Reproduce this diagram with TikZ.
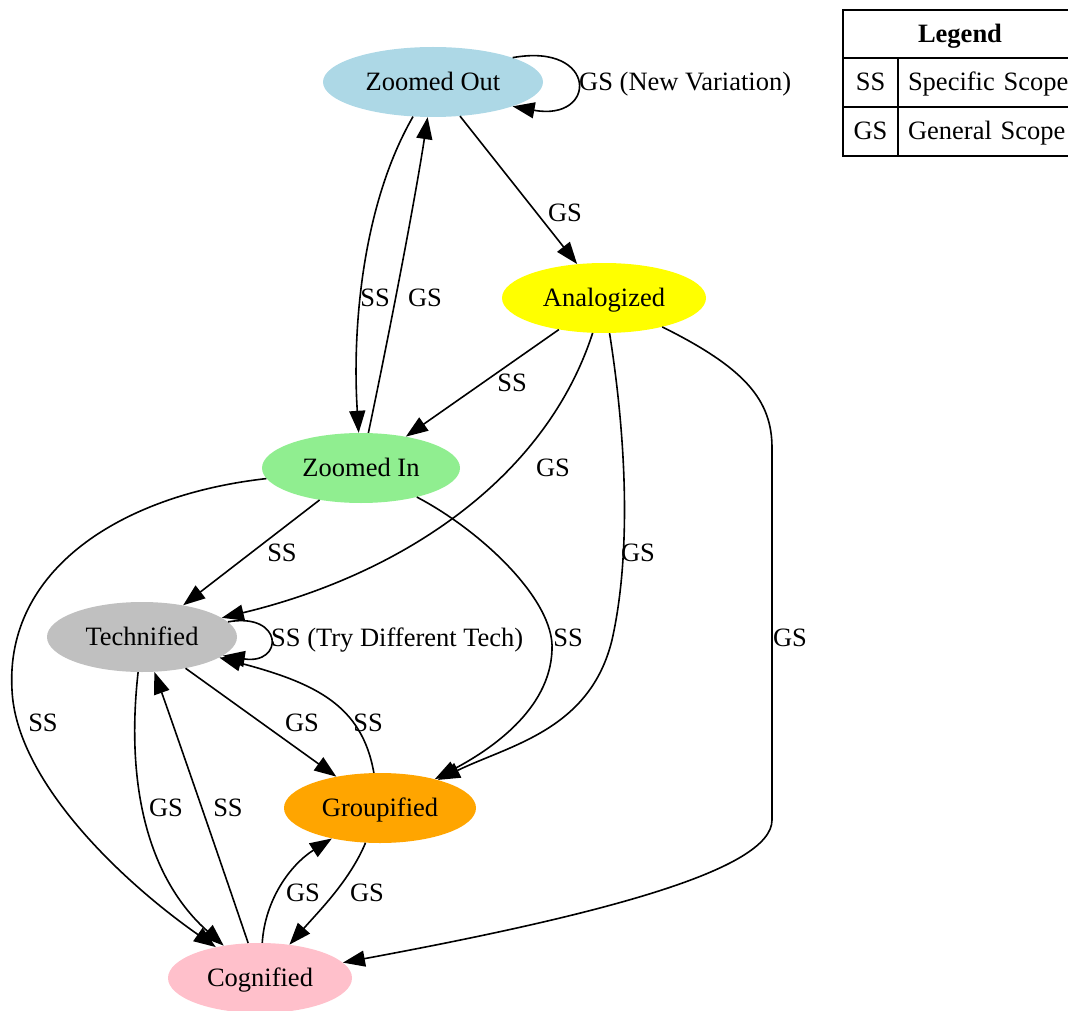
\documentclass[tikz,border=0pt]{standalone}
\usepackage{fontspec}
\setmainfont{Liberation Serif}
\usetikzlibrary{arrows.meta,shapes.geometric}
\definecolor{clightblue}{RGB}{173,216,230}
\definecolor{cyellow}{RGB}{255,255,0}
\definecolor{clightgreen}{RGB}{144,238,144}
\definecolor{cgray}{RGB}{192,192,192}
\definecolor{corange}{RGB}{255,165,0}
\definecolor{cpink}{RGB}{255,192,203}
\begin{document}
\begin{tikzpicture}[x=1pt,y=-1pt,
  every node/.style={font=\fontsize{26.5}{30}\selectfont},
  st/.style={ellipse, inner sep=0pt, minimum height=70pt, text height=17pt, text depth=0pt},
  e/.style={draw=black, line width=1.6pt, -{Triangle[length=22pt,width=16pt]}},
  lbl/.style={inner sep=0pt, text height=17pt, text depth=0pt},
  cell/.style={draw=black, line width=1.5pt, rectangle, inner sep=0pt, text height=17pt, text depth=0pt}]
\useasboundingbox (0,0) rectangle (1068,1011);

% states
\node[st, fill=clightblue, minimum width=220pt] (ZO) at (433,82) {Zoomed Out};
\node[st, fill=cyellow, minimum width=204pt] (AN) at (604,298) {Analogized};
\node[st, fill=clightgreen, minimum width=198pt] (ZI) at (361,468) {Zoomed In};
\node[st, fill=cgray, minimum width=190pt] (TE) at (142,637) {Technified};
\node[st, fill=corange, minimum width=192pt] (GR) at (380,808) {Groupified};
\node[st, fill=cpink, minimum width=184pt] (CG) at (260,978) {Cognified};

% edges
\draw[e] (ZO.17) .. controls (598,42) and (598,122) .. (ZO.-17);
\draw[e] (ZO) .. controls (362,205) and (352,330) .. (ZI);
\draw[e] (ZI) .. controls (390,330) and (415,200) .. (ZO);
\draw[e] (ZO) -- (AN);
\draw[e] (AN) -- (ZI);
\draw[e] (AN) .. controls (545,480) and (400,575) .. (TE);
\draw[e] (AN) .. controls (628,450) and (630,560) .. (612,640) .. controls (590,730) and (510,745) .. (GR);
\draw[e] (AN) .. controls (745,368) and (772,400) .. (772,448) -- (772,820) .. controls (772,870) and (600,915) .. (CG);
\draw[e] (ZI) -- (TE);
\draw[e] (ZI) .. controls (120,495) and (5,570) .. (12,690) .. controls (16,780) and (120,880) .. (CG);
\draw[e] (ZI) .. controls (480,530) and (555,600) .. (552,650) .. controls (550,710) and (490,750) .. (GR);
\draw[e] (TE.10) .. controls (284,612) and (284,665) .. (TE.-13);
\draw[e] (TE) -- (GR);
\draw[e] (GR) .. controls (362,705) and (315,683) .. (TE);
\draw[e] (TE) .. controls (125,790) and (150,880) .. (CG);
\draw[e] (CG) .. controls (220,860) and (175,730) .. (TE);
\draw[e] (CG) .. controls (265,900) and (290,865) .. (GR);
\draw[e] (GR) .. controls (350,880) and (320,910) .. (CG);

% edge labels
\node[lbl, anchor=west] (l1) at (579,82) {GS (New Variation)};
\node[lbl] (l2) at (375,298) {SS};
\node[lbl] (l3) at (425,298) {GS};
\node[lbl] (l4) at (565,213) {GS};
\node[lbl] (l5) at (512,383) {SS};
\node[lbl] (l6) at (553,468) {GS};
\node[lbl] (l7) at (638,553) {GS};
\node[lbl] (l8) at (790,638) {GS};
\node[lbl] (l9) at (282,553) {SS};
\node[lbl] (l10) at (43,723) {SS};
\node[lbl] (l11) at (568,638) {SS};
\node[lbl, anchor=west] (l12) at (271,638) {SS (Try Different Tech)};
\node[lbl] (l13) at (302,723) {GS};
\node[lbl] (l14) at (368,723) {SS};
\node[lbl] (l15) at (166,808) {GS};
\node[lbl] (l16) at (228,808) {SS};
\node[lbl] (l17) at (303,893) {GS};
\node[lbl] (l18) at (367,893) {GS};

% legend
\node[cell, minimum width=234pt, minimum height=48pt] (lgH) at (960,34) {\bfseries Legend};
\node[cell, minimum width=55pt, minimum height=49pt] (lgSSk) at (870.5,82.5) {SS};
\node[cell, minimum height=49pt, text width=170pt, inner xsep=10pt, align=left] (lgSSv) at (993,82.5) {Specific Scope};
\node[cell, minimum width=55pt, minimum height=49pt] (lgGSk) at (870.5,131.5) {GS};
\node[cell, minimum height=49pt, text width=170pt, inner xsep=10pt, align=left] (lgGSv) at (993,131.5) {General Scope};
\end{tikzpicture}
\end{document}
